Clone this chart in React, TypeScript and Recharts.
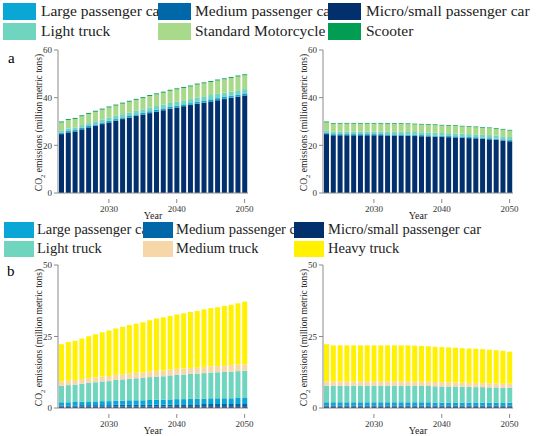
import { BarChart, Bar, XAxis, YAxis } from "recharts";

const YEARS = [
  2023, 2024, 2025, 2026, 2027, 2028, 2029, 2030, 2031, 2032, 2033, 2034, 2035, 2036,
  2037, 2038, 2039, 2040, 2041, 2042, 2043, 2044, 2045, 2046, 2047, 2048, 2049, 2050,
];

// panel a, left (baseline)
const aLeftMicro = [24.7, 25.4, 25.8, 26.7, 27.5, 28.2, 28.9, 29.6, 30.3, 31.0, 31.6, 32.3, 32.9, 33.5, 34.1, 34.7, 35.3, 35.8, 36.4, 36.9, 37.4, 37.9, 38.4, 38.9, 39.4, 39.9, 40.4, 40.9];
const aLeftMedium = [0.1, 0.1, 0.1, 0.1, 0.1, 0.1, 0.1, 0.1, 0.1, 0.1, 0.1, 0.1, 0.1, 0.1, 0.1, 0.1, 0.1, 0.1, 0.1, 0.1, 0.1, 0.1, 0.1, 0.1, 0.1, 0.1, 0.1, 0.1];
const aLeftLarge = [0.5, 0.5, 0.5, 0.5, 0.5, 0.5, 0.6, 0.6, 0.6, 0.6, 0.6, 0.6, 0.6, 0.7, 0.7, 0.7, 0.7, 0.7, 0.7, 0.7, 0.8, 0.8, 0.8, 0.8, 0.8, 0.8, 0.8, 0.8];
const aLeftLightTruck = [1.0, 1.1, 1.1, 1.2, 1.2, 1.3, 1.3, 1.4, 1.4, 1.4, 1.5, 1.5, 1.5, 1.6, 1.6, 1.6, 1.7, 1.7, 1.7, 1.7, 1.8, 1.8, 1.8, 1.8, 1.8, 1.8, 1.8, 1.8];
const aLeftMotorcycle = [3.3, 3.5, 3.6, 3.7, 3.9, 4.0, 4.1, 4.2, 4.3, 4.4, 4.5, 4.6, 4.7, 4.8, 4.9, 5.0, 5.1, 5.2, 5.2, 5.3, 5.4, 5.4, 5.5, 5.6, 5.6, 5.7, 5.8, 5.8];
const aLeftScooter = [0.4, 0.4, 0.4, 0.4, 0.4, 0.4, 0.4, 0.4, 0.4, 0.4, 0.4, 0.4, 0.4, 0.4, 0.4, 0.4, 0.4, 0.4, 0.4, 0.4, 0.4, 0.4, 0.4, 0.4, 0.4, 0.4, 0.4, 0.4];

// panel a, right (policy)
const aRightMicro = [24.7, 24.2, 24.2, 24.2, 24.2, 24.2, 24.2, 24.2, 24.2, 24.1, 24.1, 24.1, 24.0, 23.9, 23.8, 23.7, 23.6, 23.5, 23.4, 23.3, 23.2, 23.0, 22.9, 22.7, 22.5, 22.3, 22.0, 21.7];
const aRightMedium = [0.1, 0.1, 0.1, 0.1, 0.1, 0.1, 0.1, 0.1, 0.1, 0.1, 0.1, 0.1, 0.1, 0.1, 0.1, 0.1, 0.1, 0.1, 0.1, 0.1, 0.1, 0.1, 0.1, 0.1, 0.1, 0.1, 0.1, 0.1];
const aRightLarge = [0.5, 0.4, 0.4, 0.4, 0.4, 0.4, 0.4, 0.4, 0.4, 0.4, 0.4, 0.4, 0.4, 0.4, 0.4, 0.4, 0.4, 0.4, 0.4, 0.4, 0.4, 0.4, 0.4, 0.4, 0.4, 0.4, 0.4, 0.4];
const aRightLightTruck = [1.0, 1.0, 1.1, 1.1, 1.1, 1.1, 1.1, 1.1, 1.1, 1.1, 1.1, 1.1, 1.1, 1.2, 1.2, 1.2, 1.2, 1.2, 1.2, 1.2, 1.2, 1.2, 1.2, 1.2, 1.3, 1.3, 1.3, 1.3];
const aRightMotorcycle = [3.3, 3.3, 3.3, 3.3, 3.3, 3.3, 3.3, 3.3, 3.3, 3.3, 3.3, 3.3, 3.3, 3.2, 3.2, 3.2, 3.2, 3.1, 3.1, 3.1, 3.0, 3.0, 3.0, 2.9, 2.9, 2.8, 2.8, 2.7];
const aRightScooter = [0.4, 0.3, 0.3, 0.3, 0.3, 0.3, 0.3, 0.3, 0.3, 0.3, 0.3, 0.3, 0.3, 0.3, 0.3, 0.3, 0.3, 0.3, 0.3, 0.3, 0.3, 0.3, 0.3, 0.3, 0.3, 0.3, 0.3, 0.3];

// panel b, left (baseline)
const bLeftMicro = [0.5, 0.5, 0.5, 0.5, 0.5, 0.5, 0.5, 0.5, 0.5, 0.5, 0.5, 0.5, 0.5, 0.5, 0.5, 0.5, 0.5, 0.6, 0.6, 0.6, 0.6, 0.6, 0.6, 0.6, 0.6, 0.6, 0.6, 0.6];
const bLeftMedium = [0.4, 0.4, 0.4, 0.5, 0.5, 0.5, 0.5, 0.5, 0.6, 0.6, 0.6, 0.6, 0.6, 0.6, 0.7, 0.7, 0.7, 0.7, 0.7, 0.7, 0.7, 0.8, 0.8, 0.8, 0.8, 0.8, 0.8, 0.8];
const bLeftLarge = [1.1, 1.1, 1.2, 1.2, 1.3, 1.3, 1.4, 1.4, 1.5, 1.5, 1.6, 1.6, 1.6, 1.7, 1.7, 1.7, 1.8, 1.8, 1.8, 1.9, 1.9, 1.9, 2.0, 2.0, 2.0, 2.0, 2.1, 2.1];
const bLeftLightTruck = [5.8, 6.0, 6.1, 6.3, 6.5, 6.7, 6.9, 7.0, 7.2, 7.4, 7.5, 7.7, 7.8, 8.0, 8.1, 8.2, 8.4, 8.5, 8.6, 8.7, 8.8, 8.9, 9.0, 9.1, 9.2, 9.3, 9.4, 9.5];
const bLeftMedTruck = [1.5, 1.5, 1.6, 1.6, 1.7, 1.7, 1.7, 1.8, 1.8, 1.8, 1.9, 1.9, 1.9, 2.0, 2.0, 2.0, 2.0, 2.1, 2.1, 2.1, 2.1, 2.2, 2.2, 2.2, 2.2, 2.3, 2.3, 2.3];
const bLeftHeavy = [13.0, 13.6, 13.7, 14.2, 14.6, 15.1, 15.5, 15.9, 16.2, 16.6, 16.9, 17.2, 17.6, 17.9, 18.3, 18.6, 18.8, 19.0, 19.3, 19.6, 19.8, 20.1, 20.3, 20.5, 20.9, 21.1, 21.4, 21.9];

// panel b, right (policy)
const bRightMicro = [0.5, 0.5, 0.5, 0.5, 0.5, 0.5, 0.5, 0.5, 0.5, 0.5, 0.5, 0.5, 0.5, 0.5, 0.5, 0.5, 0.5, 0.5, 0.5, 0.5, 0.5, 0.5, 0.5, 0.5, 0.5, 0.5, 0.5, 0.5];
const bRightMedium = [0.4, 0.4, 0.4, 0.4, 0.4, 0.4, 0.4, 0.4, 0.4, 0.4, 0.4, 0.4, 0.4, 0.4, 0.4, 0.4, 0.4, 0.4, 0.4, 0.4, 0.4, 0.4, 0.4, 0.4, 0.4, 0.4, 0.4, 0.4];
const bRightLarge = [1.1, 1.1, 1.1, 1.1, 1.1, 1.1, 1.1, 1.1, 1.1, 1.1, 1.1, 1.1, 1.1, 1.1, 1.1, 1.1, 1.0, 1.0, 1.0, 1.0, 1.0, 1.0, 1.0, 1.0, 1.0, 1.0, 1.0, 1.0];
const bRightLightTruck = [5.8, 5.8, 5.8, 5.8, 5.8, 5.8, 5.8, 5.8, 5.8, 5.8, 5.8, 5.8, 5.8, 5.7, 5.7, 5.7, 5.7, 5.6, 5.6, 5.6, 5.5, 5.5, 5.4, 5.4, 5.3, 5.3, 5.2, 5.2];
const bRightMedTruck = [1.5, 1.5, 1.5, 1.5, 1.5, 1.5, 1.5, 1.5, 1.5, 1.5, 1.5, 1.5, 1.5, 1.5, 1.5, 1.5, 1.5, 1.5, 1.5, 1.4, 1.4, 1.4, 1.4, 1.4, 1.4, 1.4, 1.4, 1.4];
const bRightHeavy = [13.0, 12.6, 12.6, 12.6, 12.6, 12.6, 12.6, 12.6, 12.6, 12.6, 12.6, 12.6, 12.6, 12.6, 12.5, 12.4, 12.3, 12.3, 12.2, 12.2, 12.1, 12.0, 12.0, 11.9, 11.8, 11.6, 11.5, 11.2];

const LEGEND_A = ["Large passenger car", "Medium passenger car", "Micro/small passenger car", "Light truck", "Standard Motorcycle", "Scooter"];
const LEGEND_B = ["Large passenger car", "Medium passenger car", "Micro/small passenger car", "Light truck", "Medium truck", "Heavy truck"];

const COLORS: Record<string, string> = {
  "Large passenger car": "#0aa6d6",
  "Medium passenger car": "#0067a9",
  "Micro/small passenger car": "#02306d",
  "Light truck": "#6fd5bf",
  "Standard Motorcycle": "#a9d98b",
  Scooter: "#009d52",
  "Medium truck": "#f7d6a8",
  "Heavy truck": "#fff100",
};

const FONT = "Liberation Serif, Times New Roman, serif";
const AXIS = "#8a8a8a";

const buildRows = (series: Record<string, number[]>) =>
  YEARS.map((year, i) => {
    const row: Record<string, number> = { year };
    Object.keys(series).forEach((k) => (row[k] = series[k][i]));
    return row;
  });

const dataALeft = buildRows({
  "Micro/small passenger car": aLeftMicro,
  "Medium passenger car": aLeftMedium,
  "Large passenger car": aLeftLarge,
  "Light truck": aLeftLightTruck,
  "Standard Motorcycle": aLeftMotorcycle,
  Scooter: aLeftScooter,
});
const dataARight = buildRows({
  "Micro/small passenger car": aRightMicro,
  "Medium passenger car": aRightMedium,
  "Large passenger car": aRightLarge,
  "Light truck": aRightLightTruck,
  "Standard Motorcycle": aRightMotorcycle,
  Scooter: aRightScooter,
});
const dataBLeft = buildRows({
  "Micro/small passenger car": bLeftMicro,
  "Medium passenger car": bLeftMedium,
  "Large passenger car": bLeftLarge,
  "Light truck": bLeftLightTruck,
  "Medium truck": bLeftMedTruck,
  "Heavy truck": bLeftHeavy,
});
const dataBRight = buildRows({
  "Micro/small passenger car": bRightMicro,
  "Medium passenger car": bRightMedium,
  "Large passenger car": bRightLarge,
  "Light truck": bRightLightTruck,
  "Medium truck": bRightMedTruck,
  "Heavy truck": bRightHeavy,
});

const STACK_A = ["Micro/small passenger car", "Medium passenger car", "Large passenger car", "Light truck", "Standard Motorcycle", "Scooter"];
const STACK_B = ["Micro/small passenger car", "Medium passenger car", "Large passenger car", "Light truck", "Medium truck", "Heavy truck"];

const YearTick = (props: any) => {
  const { x, y, payload } = props;
  if (payload.value % 10 !== 0) return null;
  return (
    <g>
      <line x1={x} x2={x} y1={y - 2} y2={y + 2} stroke={AXIS} />
      <text x={x} y={y + 11} textAnchor="middle" fontSize={9} fill="#333" fontFamily={FONT}>
        {payload.value}
      </text>
    </g>
  );
};

const YLabel = (props: any) => {
  const { viewBox } = props;
  const cx = viewBox.x + 42;
  const cy = viewBox.y + viewBox.height / 2 + 1;
  return (
    <text
      x={cx}
      y={cy}
      transform={`rotate(-90, ${cx}, ${cy})`}
      textAnchor="middle"
      fontSize={9.5}
      fill="#222"
      fontFamily={FONT}
    >
      <tspan>CO</tspan>
      <tspan dy={2.5} fontSize={6.5}>2</tspan>
      <tspan dy={-2.5}> emissions (million metric tons)</tspan>
    </text>
  );
};

type PanelProps = {
  data: Record<string, number>[];
  stack: string[];
  max: number;
  ticks: number[];
  left: number;
  top: number;
};

const Panel = ({ data, stack, max, ticks, left, top }: PanelProps) => (
  <div style={{ position: "absolute", left, top }}>
    <BarChart width={266} height={176} data={data} margin={{ top: 5, right: 18, bottom: 0, left: 0 }} barCategoryGap="15%">
      <XAxis
        dataKey="year"
        interval={0}
        tick={<YearTick />}
        tickLine={false}
        axisLine={{ stroke: AXIS }}
        height={28}
        label={{ value: "Year", position: "insideBottom", offset: 2, fontSize: 10, fill: "#222", fontFamily: FONT }}
      />
      <XAxis xAxisId="top" dataKey="year" orientation="top" height={0} tick={false} tickLine={false} axisLine={{ stroke: AXIS }} />
      <YAxis
        domain={[0, max]}
        ticks={ticks}
        width={58}
        tickSize={4}
        tickLine={{ stroke: AXIS }}
        axisLine={{ stroke: AXIS }}
        tick={{ fontSize: 9, fill: "#333", fontFamily: FONT }}
        label={<YLabel />}
      />
      <YAxis yAxisId="right" orientation="right" domain={[0, max]} width={0} tick={false} tickLine={false} axisLine={{ stroke: AXIS }} />
      {stack.map((k) => (
        <Bar key={k} dataKey={k} stackId="s" fill={COLORS[k]} isAnimationActive={false} />
      ))}
    </BarChart>
  </div>
);

type LegendProps = {
  items: string[];
  top: number;
  swatchX: number[];
  textX: number[];
  swW: number;
  swH: number;
  rowH: number;
  fontSize: number;
};

const LegendBlock = ({ items, top, swatchX, textX, swW, swH, rowH, fontSize }: LegendProps) => (
  <>
    {items.map((name, i) => {
      const col = i % 3;
      const row = Math.floor(i / 3);
      const y = top + row * rowH;
      return (
        <div key={name + i}>
          <div
            style={{
              position: "absolute",
              left: textX[col],
              top: y + swH / 2 - fontSize * 0.6,
              fontSize,
              lineHeight: 1.15,
              fontFamily: FONT,
              color: "#222",
              whiteSpace: "nowrap",
              zIndex: 1,
            }}
          >
            {name}
          </div>
          <div
            style={{
              position: "absolute",
              left: swatchX[col],
              top: y,
              width: swW,
              height: swH,
              background: COLORS[name],
              zIndex: 2,
            }}
          />
        </div>
      );
    })}
  </>
);

export default function App() {
  return (
    <div style={{ position: "absolute", left: 0, top: 0, width: 550, height: 436, background: "#fff", overflow: "hidden", fontFamily: FONT }}>
      <Panel data={dataALeft} stack={STACK_A} max={60} ticks={[0, 20, 40, 60]} left={0} top={45} />
      <Panel data={dataARight} stack={STACK_A} max={60} ticks={[0, 20, 40, 60]} left={265} top={45} />
      <Panel data={dataBLeft} stack={STACK_B} max={50} ticks={[0, 25, 50]} left={0} top={260} />
      <Panel data={dataBRight} stack={STACK_B} max={50} ticks={[0, 25, 50]} left={265} top={260} />
      <LegendBlock items={LEGEND_A} top={3} swatchX={[3, 158, 328]} textX={[41, 195, 366]} swW={33} swH={17} rowH={19.5} fontSize={15.5} />
      <div style={{ position: "absolute", left: 0, top: 221, width: 550, height: 36, background: "#fff", zIndex: 0 }} />
      <LegendBlock items={LEGEND_B} top={222} swatchX={[4, 143, 294]} textX={[37, 176, 328]} swW={30} swH={16} rowH={19} fontSize={14.5} />
      <div style={{ position: "absolute", left: 8, top: 50, fontSize: 15, fontFamily: FONT }}>a</div>
      <div style={{ position: "absolute", left: 7, top: 263, fontSize: 15, fontFamily: FONT }}>b</div>
    </div>
  );
}
